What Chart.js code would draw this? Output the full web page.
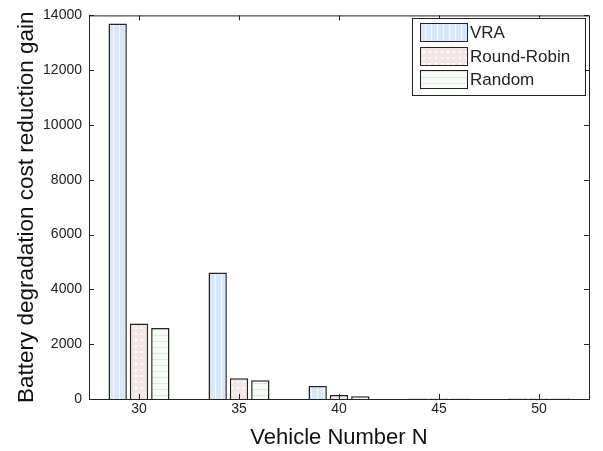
<!DOCTYPE html>
<html>
<head>
<meta charset="utf-8">
<script src="https://cdn.jsdelivr.net/npm/chart.js@4.4.0/dist/chart.umd.min.js"></script>
<style>
  html, body { margin: 0; padding: 0; background: #fff; }
  #wrap { width: 603px; height: 451px; position: relative; }
</style>
</head>
<body>
<div id="wrap"><canvas id="chart"></canvas></div>
<script>
// data
var vehicleNumbers = ['30', '35', '40', '45', '50'];
var seriesNames = ['VRA', 'Round-Robin', 'Random'];
var vraGain = [13700, 4620, 470, 20, 20];
var roundRobinGain = [2760, 760, 150, 20, 20];
var randomGain = [2590, 680, 100, 20, 20];
var yTicks = [0, 2000, 4000, 6000, 8000, 10000, 12000, 14000];

const FONT = "'Liberation Sans', Arial, sans-serif";

// hatch fills like the matlab figure
function makePattern(kind) {
  var c = document.createElement('canvas');
  c.width = 6; c.height = 6;
  var g = c.getContext('2d');
  if (kind == 'vra') {
    g.fillStyle = '#dae7f8'; g.fillRect(0, 0, 6, 6);
    g.fillStyle = '#f6f9fe'; g.fillRect(5, 0, 1, 6);
  } else if (kind == 'rr') {
    g.fillStyle = '#f3e6e4'; g.fillRect(0, 0, 6, 6);
    g.fillStyle = '#ffffff'; g.fillRect(3, 3, 2, 2);
  } else {
    g.fillStyle = '#f8fcf8'; g.fillRect(0, 0, 6, 6);
    g.fillStyle = '#d9eddc'; g.fillRect(0, 5, 6, 1);
  }
  return g.createPattern(c, 'repeat');
}
var fills = [makePattern('vra'), makePattern('rr'), makePattern('rand')];

// frame, inward ticks and the legend box
const matlabAxes = {
  id: 'matlabAxes',
  afterDraw(chart) {
    const ctx = chart.ctx, a = chart.chartArea;
    const xs = chart.scales.x, ys = chart.scales.y;
    ctx.save();
    ctx.strokeStyle = '#222';
    ctx.lineWidth = 1;
    ctx.strokeRect(a.left + 0.5, a.top + 0.5, a.right - a.left, a.bottom - a.top);
    ctx.beginPath();
    vehicleNumbers.forEach(function(v, i) {
      var x = Math.round(xs.getPixelForValue(i)) + 0.5;
      ctx.moveTo(x, a.bottom); ctx.lineTo(x, a.bottom - 5);
      ctx.moveTo(x, a.top); ctx.lineTo(x, a.top + 5);
    });
    yTicks.forEach(function(t) {
      var y = Math.round(ys.getPixelForValue(t)) + 0.5;
      ctx.moveTo(a.left, y); ctx.lineTo(a.left + 5, y);
      ctx.moveTo(a.right, y); ctx.lineTo(a.right - 5, y);
    });
    ctx.stroke();

    // legend
    var bx = 412.5, by = 18.5, bw = 173, bh = 77;
    ctx.fillStyle = '#fff';
    ctx.fillRect(bx, by, bw, bh);
    ctx.strokeStyle = '#222';
    ctx.strokeRect(bx, by, bw, bh);
    var rows = [23, 47, 70];
    ctx.font = '17px ' + FONT;
    ctx.textBaseline = 'middle';
    chart.data.datasets.forEach(function(ds, i) {
      ctx.fillStyle = ds.backgroundColor;
      ctx.fillRect(420, rows[i], 47, 18);
      ctx.strokeStyle = '#222';
      ctx.strokeRect(420.5, rows[i] + 0.5, 47, 18);
      ctx.fillStyle = '#222';
      ctx.fillText(ds.label, 470, rows[i] + 10);
    });
    ctx.restore();
  }
};

new Chart(document.getElementById('chart'), {
  type: 'bar',
  data: {
    labels: vehicleNumbers,
    datasets: [
      { label: seriesNames[0], data: vraGain, backgroundColor: fills[0] },
      { label: seriesNames[1], data: roundRobinGain, backgroundColor: fills[1] },
      { label: seriesNames[2], data: randomGain, backgroundColor: fills[2] }
    ]
  },
  options: {
    responsive: true,
    maintainAspectRatio: false,
    animation: false,
    layout: { padding: { left: 13, right: 14, top: 9, bottom: 0 } },
    datasets: {
      bar: {
        categoryPercentage: 0.64,
        barPercentage: 0.86,
        borderColor: '#222',
        borderWidth: 1.5
      }
    },
    plugins: {
      legend: { display: false },
      tooltip: { enabled: false }
    },
    scales: {
      x: {
        grid: { display: false, drawTicks: false },
        border: { display: false },
        ticks: { color: '#222', font: { family: FONT, size: 14 }, padding: 2 },
        title: { display: true, text: 'Vehicle Number N', color: '#111',
                 font: { family: FONT, size: 22 }, padding: { top: 0, bottom: 0 } },
        afterFit(s) { s.height = 52; }
      },
      y: {
        min: 0, max: 14000,
        afterBuildTicks(s) { s.ticks = yTicks.map(function(v) { return { value: v }; }); },
        grid: { display: false, drawTicks: false },
        border: { display: false },
        ticks: { color: '#222', font: { family: FONT, size: 14 }, padding: 7,
                 callback: function(v) { return String(v); } },
        title: { display: true, text: 'Battery degradation cost reduction gain', color: '#111',
                 font: { family: FONT, size: 22.5 }, padding: { top: 0, bottom: 0 } },
        afterFit(s) { s.width = 76; }
      }
    }
  },
  plugins: [matlabAxes]
});
</script>
</body>
</html>
